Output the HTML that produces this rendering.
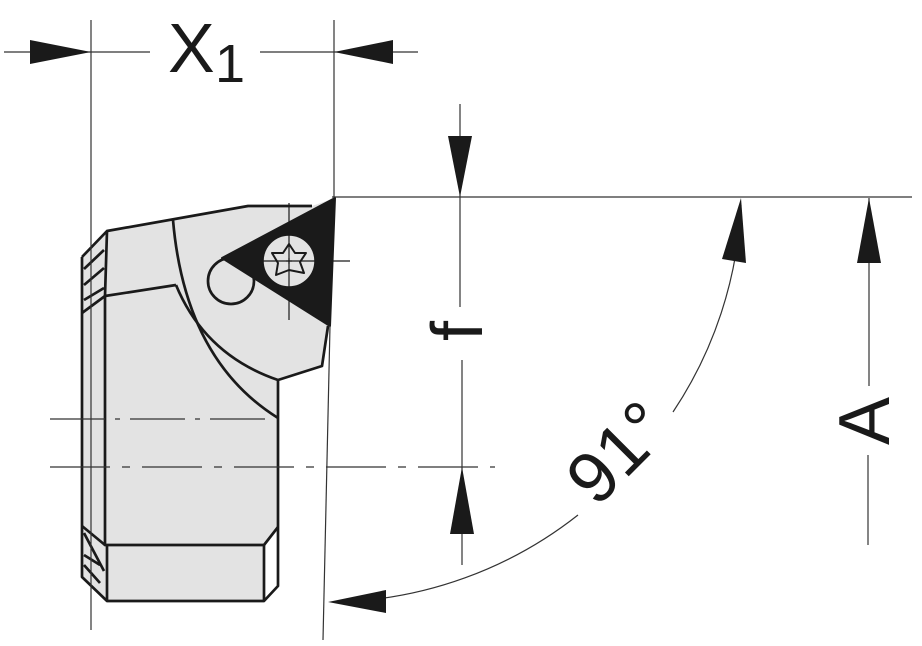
<!DOCTYPE html>
<html><head><meta charset="utf-8"><style>html,body{margin:0;padding:0;background:#fff}svg{display:block}text{font-family:"Liberation Sans",Arial,sans-serif}</style></head>
<body>
<svg width="922" height="646" viewBox="0 0 922 646" xmlns="http://www.w3.org/2000/svg">
<g stroke="#1a1a1a" fill="none">
<path d="M82,257 L107,231 L248,206 L312,206 L335,198 L330,326 L322,366 L278,380 L278,527 L264,545 L264,601 L107,601 L82,577 Z" fill="#e3e3e3" stroke="none"/>
<g stroke-width="2.7" stroke-linejoin="round">
<path d="M82,257 L107,231 L248,206 L312,206"/>
<path d="M82,257 L82,577 L107,601 L264,601 L278,586 L278,380 L322,366 L328,326"/>
<path d="M107,231 L105,296 L105,545 L107,545 L264,545 L278,527"/>
<path d="M264,545 L264,601"/>
<path d="M107,545 L107,601"/>
<path d="M82,526 L105,545"/>
<path d="M105,296 L82,313"/>
<path d="M105,296 L176,285"/>
<path d="M173,220 Q185,360 278,418"/>
<path d="M176,285 Q205,355 278,380"/>
<path d="M84,269 L104,250 M84,285 L104,268 M84,300 L104,288"/>
<path d="M84,533 L104,571 M84,555 L100,565 M84,565 L100,583"/>
<circle cx="231" cy="281" r="23" fill="#e3e3e3"/>
</g>
<path d="M335,198 L222,258 L330,326 Z" fill="#1a1a1a" stroke="#1a1a1a" stroke-width="2" stroke-linejoin="round"/>
<circle cx="289" cy="261" r="26" fill="#e3e3e3" stroke="#1a1a1a" stroke-width="1.5"/>
<path d="M289,244 L295,253 L306,253 L300,262 L304,273 L289,270 L276,275 L278,263 L272,253 L283,253 Z" stroke-width="2" fill="#e3e3e3" stroke-linejoin="round"/>
<g stroke-width="1.2">
<line x1="289" y1="203" x2="289" y2="320"/>
<line x1="262" y1="261" x2="350" y2="261"/>
<line x1="286" y1="261" x2="292" y2="261"/><line x1="289" y1="258" x2="289" y2="264"/>
</g>
<g stroke-width="1.2" stroke="#333">
<path d="M50,419 L270,419" stroke-dasharray="55,10,5,10"/>
<path d="M50,467 L495,467" stroke-dasharray="60,12,8,12"/>
<path d="M91,20 L91,630"/>
<line x1="334" y1="20" x2="334" y2="197"/>
<line x1="332" y1="197" x2="912" y2="197"/>
<line x1="330" y1="326" x2="323" y2="640"/>
<line x1="4" y1="52" x2="150" y2="52"/>
<line x1="260" y1="52" x2="418" y2="52"/>
<line x1="460" y1="104" x2="460" y2="307"/>
<line x1="462" y1="360" x2="462" y2="565"/>
<line x1="869" y1="198" x2="869" y2="386"/>
<line x1="868" y1="455" x2="868" y2="545"/>
<path d="M673,412 A406,406 0 0 0 741,205"/>
<path d="M578,515 A406,406 0 0 1 338,602"/>
</g>
</g>
<g fill="#1a1a1a">
<path d="M91,52 L30,40 L30,64 Z"/>
<path d="M334,52 L393,40 L393,64 Z"/>
<path d="M460,197 L448,136 L472,136 Z"/>
<path d="M462,467 L450,534 L474,534 Z"/>
<path d="M869,198 L857,263 L881,263 Z"/>
<path d="M741,198 L722,259 L746,263 Z"/>
<path d="M328,602 L386,590 L386,613 Z"/>
</g>
<text x="168" y="72" font-size="70" fill="#1a1a1a">X</text>
<text x="215" y="82" font-size="54" fill="#1a1a1a">1</text>
<text transform="translate(482,331) rotate(-90)" font-size="72" fill="#1a1a1a" text-anchor="middle">f</text>
<text transform="translate(889,421) rotate(-90)" font-size="72" fill="#1a1a1a" text-anchor="middle">A</text>
<text transform="translate(635,470) rotate(-45)" font-size="72" fill="#1a1a1a" text-anchor="middle">91°</text>
</svg>
</body></html>
